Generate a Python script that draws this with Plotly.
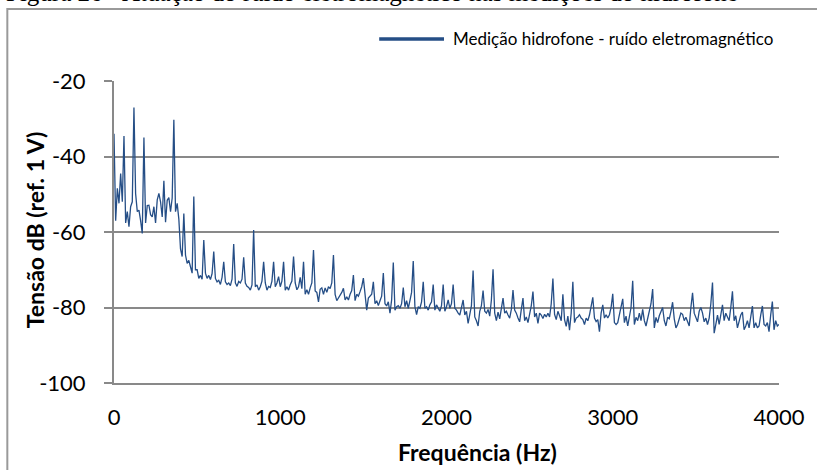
import plotly.graph_objects as go

# ---- data ----
FREQ_START = 0      # Hz
FREQ_STEP = 10      # Hz between spectrum samples

TENSAO_DB = [
    # 0 - 90 Hz
    -34.0, -57.0, -48.4, -52.4, -44.5, -52.0, -34.6, -57.6, -54.6, -58.6,
    # 100 - 190
    -53.3, -52.0, -27.0, -49.8, -54.6, -54.2, -57.0, -60.4, -35.0, -57.6,
    # 200 - 290
    -53.0, -52.9, -55.4, -56.0, -53.3, -57.6, -51.5, -49.8, -52.0, -56.0,
    # 300 - 390
    -46.4, -57.4, -51.6, -50.9, -54.6, -51.0, -30.3, -54.6, -52.4, -56.6,
    # 400 - 490
    -64.5, -66.5, -55.1, -66.1, -68.3, -67.5, -69.2, -70.9, -50.6, -70.0,
    # 500 - 590
    -70.0, -72.3, -71.5, -72.5, -62.1, -70.9, -72.3, -71.5, -72.6, -71.0,
    # 600 - 690
    -65.2, -72.3, -73.2, -72.8, -73.9, -72.0, -67.9, -73.2, -73.9, -73.5,
    # 700 - 790
    -74.2, -72.5, -63.2, -73.5, -74.4, -73.1, -73.5, -72.5, -66.7, -73.5,
    # 800 - 890
    -74.4, -74.7, -75.4, -74.0, -59.5, -74.5, -74.0, -75.4, -74.5, -73.0,
    # 900 - 990
    -67.9, -73.5, -75.4, -74.4, -74.7, -73.0, -67.9, -74.5, -73.5, -71.8,
    # 1000 - 1090
    -74.5, -73.0, -67.9, -75.4, -74.5, -75.4, -74.0, -73.0, -66.5, -73.5,
    # 1100 - 1190
    -75.3, -74.5, -72.0, -75.0, -67.9, -76.5, -75.3, -76.5, -74.8, -73.5,
    # 1200 - 1290
    -64.8, -75.6, -76.0, -78.5, -75.2, -74.8, -76.5, -74.8, -76.0, -74.5,
    # 1300 - 1390
    -75.0, -73.5, -66.1, -76.5, -78.2, -77.5, -77.0, -76.0, -74.9, -78.0,
    # 1400 - 1490
    -77.2, -78.0, -76.5, -75.5, -71.4, -78.2, -76.5, -77.0, -75.8, -74.5,
    # 1500 - 1590
    -72.2, -77.0, -80.7, -77.5, -77.0, -76.5, -73.2, -79.0, -78.2, -79.5,
    # 1600 - 1690
    -78.2, -77.0, -70.9, -79.0, -79.6, -78.5, -81.5, -78.0, -68.1, -80.7,
    # 1700 - 1790
    -79.8, -79.5, -80.2, -79.0, -74.7, -79.8, -78.2, -80.2, -78.2, -76.0,
    # 1800 - 1890
    -67.7, -79.8, -81.9, -79.8, -80.2, -78.5, -73.2, -80.2, -79.8, -80.7,
    # 1900 - 1990
    -79.3, -78.5, -73.9, -80.7, -79.3, -80.2, -81.0, -79.5, -73.9, -81.0,
    # 2000 - 2090
    -79.8, -78.0, -80.2, -79.0, -73.9, -80.2, -80.7, -81.5, -82.0, -80.0,
    # 2100 - 2190
    -78.0, -82.0, -81.0, -84.2, -81.5, -79.5, -70.2, -82.5, -83.5, -84.9,
    # 2200 - 2290
    -81.0, -79.5, -75.5, -81.0, -81.5, -80.5, -82.3, -78.0, -69.9, -81.5,
    # 2300 - 2390
    -83.5, -81.2, -83.0, -80.0, -77.5, -81.5, -81.0, -82.0, -82.8, -80.5,
    # 2400 - 2490
    -75.4, -80.7, -81.5, -82.8, -83.8, -80.5, -77.5, -83.5, -82.5, -84.0,
    # 2500 - 2590
    -82.0, -79.5, -75.8, -82.5, -81.5, -84.2, -81.5, -82.0, -82.9, -81.8,
    # 2600 - 2690
    -82.5, -81.5, -82.5, -79.0, -72.3, -81.8, -83.2, -81.0, -82.2, -83.5,
    # 2700 - 2790
    -76.5, -83.2, -85.0, -82.3, -86.0, -81.5, -73.2, -84.0, -82.8, -82.5,
    # 2800 - 2890
    -81.9, -82.8, -83.2, -84.5, -82.8, -83.5, -82.0, -80.0, -77.3, -82.8,
    # 2900 - 2990
    -83.7, -83.2, -86.4, -81.5, -79.3, -82.8, -81.9, -82.8, -81.9, -80.0,
    # 3000 - 3090
    -76.4, -84.0, -84.5, -84.0, -81.9, -80.5, -77.7, -84.0, -82.3, -84.9,
    # 3100 - 3190
    -82.6, -80.0, -72.9, -84.5, -82.6, -83.5, -81.5, -83.5, -80.5, -83.5,
    # 3200 - 3290
    -84.9, -83.0, -81.0, -79.0, -75.1, -85.4, -82.6, -84.0, -82.2, -81.0,
    # 3300 - 3390
    -80.0, -83.5, -84.9, -82.6, -83.0, -81.0, -78.6, -83.0, -85.4, -84.5,
    # 3400 - 3490
    -82.6, -81.5, -81.8, -83.5, -82.6, -84.0, -84.9, -80.0, -76.1, -81.5,
    # 3500 - 3590
    -82.5, -83.8, -81.0, -80.0, -81.5, -83.8, -82.8, -84.5, -82.8, -79.0,
    # 3600 - 3690
    -73.4, -86.8, -84.5, -82.0, -84.5, -82.0, -79.3, -83.5, -81.5, -82.5,
    # 3700 - 3790
    -83.5, -80.0, -75.7, -83.5, -82.2, -85.4, -83.5, -82.0, -81.2, -85.9,
    # 3800 - 3890
    -84.9, -83.5, -85.4, -82.0, -79.6, -85.4, -84.0, -85.4, -84.9, -82.0,
    # 3900 - 3990
    -79.6, -84.5, -84.9, -84.0, -86.4, -82.0, -78.4, -85.9, -83.5, -84.9,
    # 4000
    -84.5,
]

X_TICKS = [0, 1000, 2000, 3000, 4000]
X_TICK_TEXT = ["0", "1000", "2000", "3000", "4000"]
Y_TICKS = [-100, -80, -60, -40, -20]
Y_TICK_TEXT = ["-100", "-80", "-60", "-40", "-20"]
X_RANGE = [0, 4000]
Y_RANGE = [-100, -20]

SERIES_NAME = "Medição hidrofone - ruído eletromagnético"
X_TITLE = "Frequência (Hz)"
Y_TITLE = "Tensão dB (ref. 1 V)"
CAPTION = "Figura 26 - Atuação do ruído eletromagnético nas medições do hidrofone"

# ---- styling ----
LINE_COLOR = "#254E86"
GRID_COLOR = "#898989"
FONT = "Lato"

W, H = 817, 470
ML, MR, MT, MB = 114, 36, 81, 87
PW = W - ML - MR
PH = H - MT - MB


def px_x(px):
    return (px - ML) / PW


def px_y(py):
    return (H - MB - py) / PH


fig = go.Figure()
fig.add_trace(go.Scatter(
    x0=FREQ_START, dx=FREQ_STEP, y=TENSAO_DB,
    mode="lines", name=SERIES_NAME, showlegend=False,
    line=dict(color=LINE_COLOR, width=1.3),
    xaxis="x", yaxis="y",
))

fig.update_layout(
    width=W, height=H,
    margin=dict(l=ML, r=MR, t=MT, b=MB, pad=0),
    paper_bgcolor="white", plot_bgcolor="white",
    font=dict(family=FONT, color="black"),
    showlegend=False,
    xaxis=dict(
        range=X_RANGE, tickvals=X_TICKS, ticktext=X_TICK_TEXT,
        showgrid=False, zeroline=False,
        showline=True, linecolor=GRID_COLOR, linewidth=2,
        ticks="", tickfont=dict(size=22, family=FONT, color="black"),
        ticklabelstandoff=14,
    ),
    xaxis2=dict(
        overlaying="x", side="top", anchor="y", matches="x",
        range=X_RANGE, tickvals=X_TICKS, showgrid=False, zeroline=False,
        showline=True, linecolor=GRID_COLOR, linewidth=2,
        ticks="inside", ticklen=7, tickwidth=2, tickcolor=GRID_COLOR,
        showticklabels=False,
    ),
    yaxis=dict(
        range=Y_RANGE, tickvals=Y_TICKS, ticktext=Y_TICK_TEXT, showgrid=True,
        gridcolor=GRID_COLOR, gridwidth=2, zeroline=False,
        showline=True, linecolor=GRID_COLOR, linewidth=2,
        ticks="outside", ticklen=8, tickwidth=2, tickcolor=GRID_COLOR,
        tickfont=dict(size=22, family=FONT, color="black"),
        ticklabelstandoff=14,
    ),
)

# outer frame of the figure (partly outside the picture)
fig.add_shape(type="rect", xref="paper", yref="paper",
              x0=px_x(7), x1=px_x(W + 20), y0=px_y(H + 20), y1=px_y(9),
              line=dict(color="#9a9a9a", width=2), fillcolor="rgba(0,0,0,0)",
              layer="below")

# legend (line sample + label)
fig.add_shape(type="line", xref="paper", yref="paper",
              x0=px_x(380), x1=px_x(445), y0=px_y(39), y1=px_y(39),
              line=dict(color=LINE_COLOR, width=3.5))
fig.add_annotation(text=SERIES_NAME, xref="paper", yref="paper",
                   x=px_x(452), y=px_y(38), xanchor="left", yanchor="middle",
                   showarrow=False, font=dict(size=17, family=FONT, color="black"))

# axis titles
fig.add_annotation(text="<b>" + X_TITLE + "</b>", xref="paper", yref="paper",
                   x=px_x(479), y=px_y(452), xanchor="center", yanchor="middle",
                   showarrow=False, font=dict(size=23, family=FONT, color="black"))
fig.add_annotation(text="<b>" + Y_TITLE + "</b>", xref="paper", yref="paper",
                   x=px_x(35), y=px_y(230), xanchor="center", yanchor="middle",
                   textangle=-90, showarrow=False,
                   font=dict(size=23, family=FONT, color="black"))

# caption (cut by the top edge as in the reference)
fig.add_annotation(text=CAPTION, xref="paper", yref="paper",
                   x=px_x(4), y=px_y(8), xanchor="left", yanchor="bottom",
                   showarrow=False,
                   font=dict(size=25, family="Liberation Serif", color="black"))

fig.write_html(
    "out.html",
    config={"displayModeBar": False},
    post_script="document.body.style.margin='0';document.body.style.padding='0';",
)
